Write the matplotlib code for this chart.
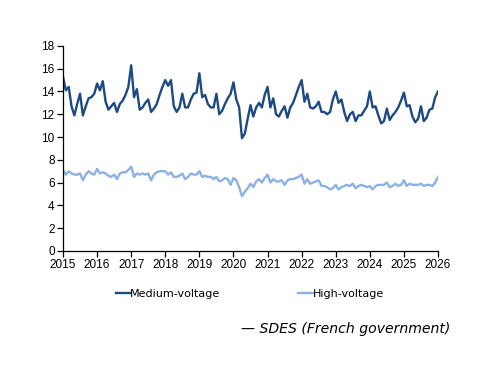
import numpy as np
import matplotlib
matplotlib.use("Agg")
import matplotlib.pyplot as plt

medium_voltage = [
    15.3, 14.1, 14.4, 12.7, 11.9, 12.9, 13.8, 11.9, 12.7, 13.4, 13.5, 13.8,   # 2015
    14.7, 14.1, 14.9, 13.1, 12.4, 12.7, 13.0, 12.2, 12.9, 13.2, 13.7, 14.4,   # 2016
    16.3, 13.5, 14.2, 12.4, 12.6, 13.0, 13.3, 12.2, 12.5, 12.9, 13.7, 14.4,   # 2017
    15.0, 14.5, 15.0, 12.7, 12.2, 12.6, 13.8, 12.6, 12.6, 13.3, 13.8, 13.9,   # 2018
    15.6, 13.5, 13.7, 12.9, 12.6, 12.6, 13.8, 12.0, 12.3, 12.9, 13.4, 13.8,   # 2019
    14.8, 13.3, 12.6, 9.9, 10.3, 11.6, 12.8, 11.8, 12.6, 13.0, 12.6, 13.7,    # 2020
    14.4, 12.6, 13.4, 12.0, 11.8, 12.3, 12.7, 11.7, 12.6, 13.0, 13.7, 14.4,   # 2021
    15.0, 13.1, 13.8, 12.6, 12.5, 12.7, 13.1, 12.2, 12.2, 12.0, 12.2, 13.3,   # 2022
    14.0, 13.0, 13.3, 12.2, 11.4, 12.0, 12.2, 11.4, 11.9, 11.9, 12.3, 12.7,   # 2023
    14.0, 12.6, 12.7, 11.9, 11.2, 11.4, 12.5, 11.5, 11.9, 12.2, 12.6, 13.2,   # 2024
    13.9, 12.7, 12.8, 11.8, 11.3, 11.6, 12.7, 11.4, 11.7, 12.4, 12.5, 13.5,   # 2025
    14.0,                                                                     # 2026
]
high_voltage = [
    7.1, 6.7, 7.0, 6.8, 6.7, 6.7, 6.8, 6.2, 6.7, 7.0, 6.8, 6.7,   # 2015
    7.2, 6.8, 6.9, 6.8, 6.6, 6.5, 6.7, 6.3, 6.8, 6.9, 6.9, 7.1,   # 2016
    7.4, 6.5, 6.8, 6.7, 6.8, 6.7, 6.8, 6.2, 6.7, 6.9, 7.0, 7.0,   # 2017
    7.0, 6.7, 6.9, 6.5, 6.5, 6.6, 6.8, 6.3, 6.5, 6.8, 6.7, 6.7,   # 2018
    7.0, 6.5, 6.6, 6.5, 6.5, 6.3, 6.5, 6.1, 6.2, 6.4, 6.3, 5.8,   # 2019
    6.4, 6.2, 5.6, 4.8, 5.2, 5.5, 5.9, 5.6, 6.1, 6.3, 6.0, 6.4,   # 2020
    6.7, 6.0, 6.3, 6.1, 6.1, 6.2, 5.8, 6.2, 6.3, 6.3, 6.4, 6.5,   # 2021
    6.7, 5.9, 6.3, 5.9, 6.0, 6.1, 6.2, 5.7, 5.7, 5.6, 5.4, 5.5,   # 2022
    5.8, 5.4, 5.6, 5.7, 5.8, 5.7, 5.9, 5.5, 5.7, 5.8, 5.7, 5.6,   # 2023
    5.7, 5.4, 5.7, 5.8, 5.8, 5.8, 6.0, 5.6, 5.7, 5.9, 5.7, 5.8,   # 2024
    6.2, 5.7, 5.9, 5.8, 5.8, 5.8, 5.9, 5.7, 5.8, 5.8, 5.7, 6.0,   # 2025
    6.5,                                                          # 2026
]
series_labels = ["Medium-voltage", "High-voltage"]
year_ticks = list(range(2015, 2027))
y_ticks = list(range(0, 19, 2))
source_text = "\u2014 SDES (French government)"

dates = 2015 + np.arange(len(medium_voltage)) / 12.0

fig = plt.figure(figsize=(5.0, 3.86), dpi=100)
ax = fig.add_axes([0.126, 0.350, 0.750, 0.531])

ax.plot(dates, medium_voltage, color="#1d4a82", lw=1.7, label=series_labels[0])
ax.plot(dates, high_voltage, color="#8cb2e3", lw=1.7, label=series_labels[1])

ax.set_xlim(2015, 2026)
ax.set_ylim(0, 18)
ax.set_xticks(year_ticks)
ax.set_yticks(y_ticks)
for s in ["top", "right"]:
    ax.spines[s].set_visible(False)
for s in ["left", "bottom"]:
    ax.spines[s].set_color("#000000")
    ax.spines[s].set_linewidth(0.9)
ax.tick_params(direction="out", length=4, width=0.9, labelsize=8.5, pad=2)
for lab in ax.get_xticklabels() + ax.get_yticklabels():
    lab.set_fontfamily("Liberation Sans")

leg = fig.legend(loc="center", bbox_to_anchor=(0.5, 0.238), ncol=2, frameon=False,
                 handlelength=1.3, handletextpad=0.0, columnspacing=7.0,
                 prop={"family": "DejaVu Sans", "size": 8})

fig.text(0.90, 0.148, source_text, ha="right", va="center", fontsize=10.1,
         style="italic", family="DejaVu Sans")

fig.savefig("out.png", dpi=100)
